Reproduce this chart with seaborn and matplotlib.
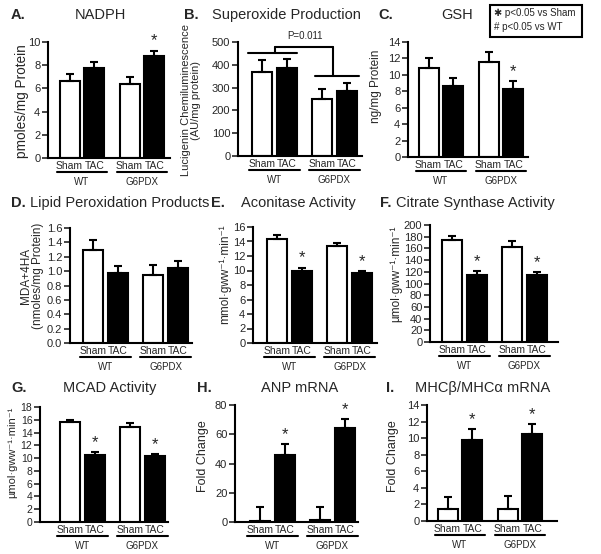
import numpy as np
import pandas as pd
import matplotlib
matplotlib.use("Agg")
import matplotlib.pyplot as plt
import matplotlib.transforms as mtransforms
from matplotlib.patches import Rectangle
import seaborn as sns

# ---------------- data ----------------
genotypes = ["WT", "G6PDX"]
conditions = ["Sham", "TAC"]

nadph_sham = [6.6, 6.4];      nadph_tac = [7.8, 8.8]
nadph_sham_err = [0.6, 0.6];  nadph_tac_err = [0.5, 0.45]

superox_sham = [370, 250];    superox_tac = [385, 285]
superox_sham_err = [50, 45];  superox_tac_err = [40, 35]

gsh_sham = [10.8, 11.6];      gsh_tac = [8.6, 8.3]
gsh_sham_err = [1.2, 1.2];    gsh_tac_err = [1.0, 0.9]

lipid_sham = [1.29, 0.95];    lipid_tac = [0.97, 1.04]
lipid_sham_err = [0.14, 0.13]; lipid_tac_err = [0.10, 0.10]

acon_sham = [14.4, 13.4];     acon_tac = [9.9, 9.6]
acon_sham_err = [0.5, 0.4];   acon_tac_err = [0.5, 0.3]

cs_sham = [175, 163];         cs_tac = [115, 115]
cs_sham_err = [7, 10];        cs_tac_err = [6, 4]

mcad_sham = [15.6, 14.9];     mcad_tac = [10.5, 10.3]
mcad_sham_err = [0.4, 0.6];   mcad_tac_err = [0.5, 0.3]

anp_sham = [1.0, 1.5];        anp_tac = [46, 64]
anp_sham_err = [9.0, 8.5];    anp_tac_err = [7, 6.5]

mhc_sham = [1.4, 1.5];        mhc_tac = [9.8, 10.5]
mhc_sham_err = [1.5, 1.5];    mhc_tac_err = [1.3, 1.2]

# stars: (condition index, genotype index)
nadph_stars = [(1, 1)]
gsh_stars = [(1, 1)]
acon_stars = [(1, 0), (1, 1)]
cs_stars = [(1, 0), (1, 1)]
mcad_stars = [(1, 0), (1, 1)]
anp_stars = [(1, 0), (1, 1)]
mhc_stars = [(1, 0), (1, 1)]

# ---------------- style ----------------
sns.set_style("ticks")
plt.rcParams["font.family"] = ["Liberation Sans", "DejaVu Sans"]

W, H = 601, 554
fig = plt.figure(figsize=(W / 100, H / 100), dpi=100)
PXU = 60.0  # pixels per group unit


def fx(x):
    return x / W


def fy(y):
    return 1 - y / H


def panel(yaxis_x, g0, top_y, zero_y, right_x, sham, tac, sham_err, tac_err,
          ymax, ystep, stars=(), fmt=None, glabels=True, ticksize=8):
    ax = fig.add_axes([fx(yaxis_x), fy(zero_y), (right_x - yaxis_x) / W,
                       (zero_y - top_y) / H])
    df = pd.DataFrame({
        "genotype": genotypes * 2,
        "condition": ["Sham"] * 2 + ["TAC"] * 2,
        "value": list(sham) + list(tac),
    })
    sns.barplot(data=df, x="genotype", y="value", hue="condition",
                order=genotypes, hue_order=conditions,
                palette={"Sham": "white", "TAC": "black"},
                edgecolor="black", linewidth=1.5, width=0.83, gap=0.2,
                errorbar=None, legend=False, ax=ax)
    bars = sorted(ax.patches, key=lambda b: b.get_x())
    # sorted order: WT-Sham, WT-TAC, G6PDX-Sham, G6PDX-TAC
    keys = [(0, 0), (1, 0), (0, 1), (1, 1)]
    errs = [sham_err, tac_err]
    centers, labels, tops = [], [], {}
    for bar, (ci, gi) in zip(bars, keys):
        x = bar.get_x() + bar.get_width() / 2
        h = bar.get_height()
        e = errs[ci][gi]
        ax.errorbar([x], [h], yerr=[[0], [e]], fmt="none", ecolor="black",
                    elinewidth=1.5, capsize=3, capthick=1.5, zorder=3)
        centers.append(x)
        labels.append(conditions[ci])
        tops[(ci, gi)] = (x, h + e)
    ax.set_xticks(centers)
    ax.set_xticklabels(labels, fontsize=7.5)
    ax.tick_params(axis="x", length=0, pad=2)
    ax.set_xlim(-(g0 - yaxis_x) / PXU, (right_x - g0) / PXU)
    ax.set_ylim(0, ymax)
    ticks = np.arange(0, ymax + ystep / 2, ystep)
    ax.set_yticks(ticks)
    if fmt:
        ax.set_yticklabels([fmt.format(v) for v in ticks])
    else:
        ax.set_yticklabels([f"{v:g}" for v in ticks])
    ax.tick_params(axis="y", labelsize=ticksize, length=4, width=1.2, pad=1.5)
    ax.set_xlabel("")
    ax.set_ylabel("")
    for s in ["left", "bottom"]:
        ax.spines[s].set_linewidth(1.5)
        ax.spines[s].set_color("black")
    sns.despine(ax=ax)
    blend = mtransforms.blended_transform_factory(ax.transData, ax.transAxes)
    uline = mtransforms.offset_copy(blend, fig=fig, y=-14, units="dots")
    for gi, g in enumerate(genotypes):
        ax.plot([gi - 0.42, gi + 0.42], [0, 0], color="black", lw=1.5,
                transform=uline, clip_on=False)
        if glabels:
            ax.annotate(g, xy=(gi, 0), xycoords=("data", "axes fraction"),
                        xytext=(0, -17), textcoords="offset points",
                        ha="center", va="center", fontsize=7)
    for (ci, gi) in stars:
        x, t = tops[(ci, gi)]
        ax.annotate("*", xy=(x, t), xytext=(0, 1.5), textcoords="offset points",
                    ha="center", va="bottom", fontsize=12)
    return ax


def title(letter, lx, text, tx, y, size=10.5):
    fig.text(fx(lx), fy(y), letter, fontsize=size, fontweight="bold",
             ha="left", va="center")
    if text:
        fig.text(fx(tx), fy(y), text, fontsize=size, ha="center", va="center")


def ylab(text, x, y, size=8.5):
    fig.text(fx(x), fy(y), text, fontsize=size, rotation=90,
             ha="center", va="center", linespacing=1.1)


# Row 1
axA = panel(48, 82, 42, 158, 170, nadph_sham, nadph_tac, nadph_sham_err,
            nadph_tac_err, 10, 2, nadph_stars)
axB = panel(238, 274.5, 42, 156, 362, superox_sham, superox_tac,
            superox_sham_err, superox_tac_err, 500, 100)
axC = panel(408, 441, 42, 157, 528, gsh_sham, gsh_tac, gsh_sham_err,
            gsh_tac_err, 14, 2, gsh_stars)
# Row 2
axD = panel(70, 105.5, 228, 343, 192, lipid_sham, lipid_tac, lipid_sham_err,
            lipid_tac_err, 1.6, 0.2, fmt="{:.1f}")
axE = panel(253, 289.5, 227, 343, 377, acon_sham, acon_tac, acon_sham_err,
            acon_tac_err, 16, 2, acon_stars)
axF = panel(430, 464.5, 225, 342, 558, cs_sham, cs_tac, cs_sham_err,
            cs_tac_err, 200, 20, cs_stars)
# Row 3
axG = panel(40, 82.5, 407, 522, 168, mcad_sham, mcad_tac, mcad_sham_err,
            mcad_tac_err, 18, 2, mcad_stars, ticksize=7.5)
axH = panel(235, 272.5, 405, 522, 358, anp_sham, anp_tac, anp_sham_err,
            anp_tac_err, 80, 20, anp_stars)
axI = panel(427, 460, 405, 521, 557, mhc_sham, mhc_tac, mhc_sham_err,
            mhc_tac_err, 14, 2, mhc_stars)

# Panel B bracket
bk = dict(color="black", lw=1.5, clip_on=False)
axB.plot([-0.45, 0.38], [452, 452], **bk)
axB.plot([0, 0], [452, 478], **bk)
axB.plot([0, 0.98], [478, 478], **bk)
axB.plot([0.98, 0.98], [478, 351], **bk)
axB.plot([0.68, 1.4], [351, 351], **bk)
axB.text(0.5, 505, "P=0.011", ha="center", va="bottom", fontsize=7)

# Titles
title("A.", 11, "NADPH", 100, 15)
title("B.", 184, "Superoxide Production", 286, 15)
title("C.", 378, "GSH", 457, 15)
title("D.", 11, "", 0, 203)
fig.text(fx(30), fy(203), "Lipid Peroxidation Products", fontsize=10.5,
         ha="left", va="center")
title("E.", 211, "Aconitase Activity", 298, 203)
title("F.", 380, "", 0, 203)
fig.text(fx(396), fy(203), "Citrate Synthase Activity", fontsize=10.5,
         ha="left", va="center")
title("G.", 11, "MCAD Activity", 110, 388)
title("H.", 197, "ANP mRNA", 300, 388)
title("I.", 386, "MHCβ/MHCα mRNA", 483, 388)

# Y labels
ylab("pmoles/mg Protein", 22, 101, 9.8)
ylab("Lucigenin Chemiluminescence\n(AU/mg protein)", 191, 100, 8)
ylab("ng/mg Protein", 376, 86, 8.5)
ylab("MDA+4HA\n(nmoles/mg Protein)", 32, 276, 8.5)
ylab("mmol·gww⁻¹·min⁻¹", 225, 274, 8.5)
ylab("µmol·gww⁻¹·min⁻¹", 396, 274, 8.5)
ylab("µmol·gww⁻¹·min⁻¹", 12, 452, 8)
ylab("Fold Change", 203, 456, 9)
ylab("Fold Change", 393, 456, 9)

# Legend box
fig.add_artist(Rectangle((fx(490), fy(37)), 92 / W, 32 / H,
                         transform=fig.transFigure, fill=False, lw=1.5,
                         edgecolor="black"))
fig.text(fx(494), fy(13), "✱ p<0.05 vs Sham", fontsize=7, ha="left", va="center")
fig.text(fx(494), fy(27), "# p<0.05 vs WT", fontsize=7, ha="left", va="center")

fig.savefig("out.png", dpi=100)
